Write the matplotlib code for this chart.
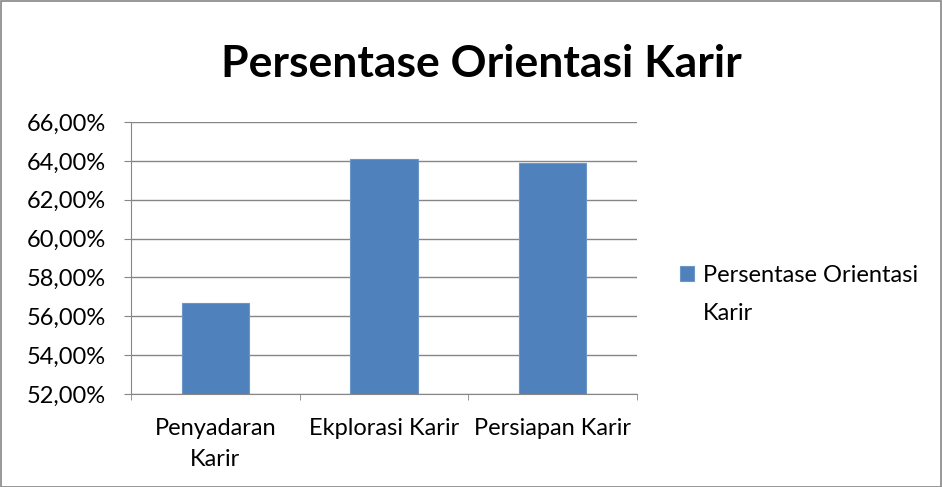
import matplotlib.pyplot as plt
from matplotlib.patches import Rectangle
from matplotlib.ticker import FuncFormatter

categories = ['Penyadaran\nKarir', 'Ekplorasi Karir', 'Persiapan Karir']
values = [56.69, 64.12, 63.88]
series_lines = ['Persentase Orientasi', 'Karir']
title = 'Persentase Orientasi Karir'

plt.rcParams['font.family'] = ['Lato', 'DejaVu Sans']

fig = plt.figure(figsize=(9.43, 4.87), dpi=100)
ax = fig.add_axes([131/943, 1 - 394/487, (637 - 131)/943, (394 - 122)/487])

bars = ax.bar(range(len(values)), values, width=0.4, color='#4f81bd',
              edgecolor='#6d96c8', linewidth=0.8, zorder=3)
ax.set_xlim(-0.5, 2.5)
ax.set_ylim(52, 66)
ax.set_yticks(range(52, 67, 2))
ax.yaxis.set_major_formatter(FuncFormatter(lambda v, p: f'{v:.2f}%'.replace('.', ',')))
ax.set_xticks(range(len(categories)))
ax.set_xticklabels(categories, fontsize=17, linespacing=1.6)
ax.set_xticks([i - 0.5 for i in range(len(categories) + 1)], minor=True)
ax.tick_params(axis='y', labelsize=17, length=5, color='#868686', pad=13)
ax.tick_params(axis='x', which='major', length=0, pad=17)
ax.tick_params(axis='x', which='minor', length=4, color='#868686')
ax.grid(axis='y', color='#868686', linewidth=1, zorder=0)
for s in ['top', 'right']:
    ax.spines[s].set_visible(False)
ax.spines['left'].set_color('#868686')
ax.spines['bottom'].set_color('#868686')

fig.text(481/943, 1 - 64/487, title, ha='center', va='center', fontsize=32, fontweight='bold')

blank = Rectangle((0, 0), 1, 1, fill=False, edgecolor='none')
leg = fig.legend(handles=[bars, blank], labels=series_lines, loc='upper left',
                 bbox_to_anchor=(680/943, 1 - 265/487), frameon=False, fontsize=17,
                 borderpad=0, borderaxespad=0,
                 handlelength=0.6, handleheight=0.6, handletextpad=0.38, labelspacing=0.7)

fig.patches.append(Rectangle((0.001, 0.001), 0.997, 0.997, transform=fig.transFigure,
                             fill=False, edgecolor='#868686', linewidth=1.2))

fig.savefig('out.png', dpi=100)
